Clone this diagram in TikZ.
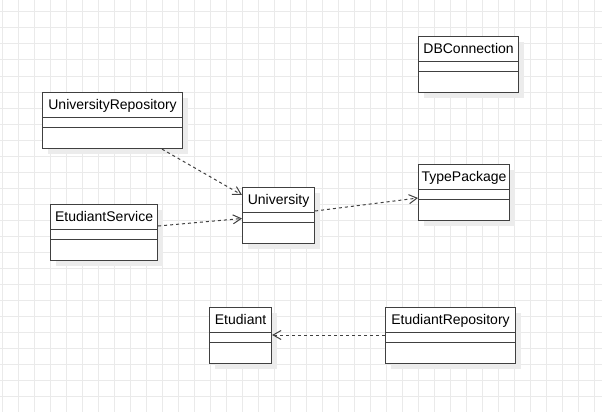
\documentclass[tikz,border=0pt]{standalone}
\usepackage{fontspec}
\setmainfont{Liberation Sans}
\usetikzlibrary{arrows.meta}
\definecolor{linec}{RGB}{64,64,64}
\definecolor{gridc}{RGB}{234,234,234}
\definecolor{shadowc}{RGB}{236,236,236}
\begin{document}
\begin{tikzpicture}[x=1pt,y=-1pt,
  cls/.style={draw=linec, fill=white, line width=1.1pt, inner sep=0pt, anchor=north west,
    minimum height=56pt},
  shade box/.style={fill=shadowc},
  ctext/.style={anchor=base, inner sep=0pt, font=\fontsize{14pt}{16pt}\selectfont, text=black},
  sep/.style={draw=linec, line width=1.1pt},
  dep/.style={draw=linec, line width=1pt, dash pattern=on 3pt off 3pt,
    -{Straight Barb[length=8pt,width=9pt,line width=1pt]}}]
\useasboundingbox (0,0) rectangle (602,412);
\fill[white] (0,0) rectangle (602,412);
\foreach \x in {2,18,...,600} \draw[gridc, line width=1pt] (\x,0) -- (\x,412);
\foreach \y in {12,28,...,412} \draw[gridc, line width=1pt] (0,\y) -- (602,\y);

% classes
\foreach \n/\t/\x/\y/\w in {UR/UniversityRepository/42/92/140, ES/EtudiantService/50/204/107,
  U/University/242/187/72, DB/DBConnection/418/36/100, TP/TypePackage/418/164/91,
  E/Etudiant/209/307/62, ER/EtudiantRepository/385/307/130}{
  \fill[shade box] (\x+6,\y+6) rectangle (\x+\w+6,\y+62);
  \node[cls, minimum width=\w pt] (\n) at (\x,\y) {};
  \node[ctext] (\n-title) at ([yshift=-17.5pt]\n.north) {\t};
  \draw[sep] ([yshift=-25.5pt]\n.north west) -- ([yshift=-25.5pt]\n.north east);
  \draw[sep] ([yshift=-35.5pt]\n.north west) -- ([yshift=-35.5pt]\n.north east);
}

% dependencies
\draw[dep] ([xshift=120pt]UR.south west) -- ([yshift=-8pt]U.north west);
\draw[dep] ([yshift=-22pt]ES.north east) -- ([yshift=-31.5pt]U.north west);
\draw[dep] ([yshift=-24pt]U.north east) -- ([yshift=-34pt]TP.north west);
\draw[dep] ([yshift=-28pt]ER.north west) -- ([yshift=-28pt]E.north east);
\end{tikzpicture}
\end{document}
